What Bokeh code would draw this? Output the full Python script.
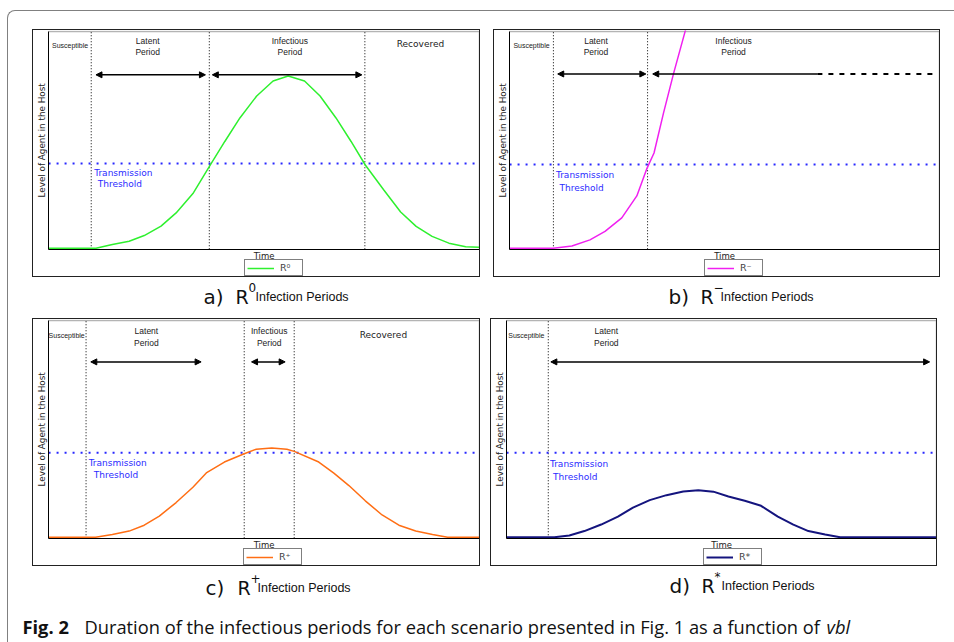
import math
from bokeh.plotting import figure
from bokeh.models import Range1d, Arrow, NormalHead, Legend, LegendItem, FixedTicker
from bokeh.layouts import row, column
from bokeh.embed import file_html
from bokeh.resources import INLINE
from bokeh.core.properties import value

# ---------------- data (time and level as % of the plot extent) ----------------
a_x = [0, 11.0, 14.8, 18.7, 22.2, 26.1, 29.6, 33.5, 37.4, 40.9, 44.4, 48.3, 52.1, 55.6,
       59.4, 63.0, 66.7, 70.2, 73.5, 77.8, 81.7, 85.3, 89.0, 92.9, 96.8, 100]
a_y = [0.5, 0.5, 2.2, 3.7, 6.3, 10.6, 16.7, 25.6, 38.3, 49.5, 60.3, 70.4, 77.3, 79.6,
       77.3, 70.4, 60.3, 49.5, 38.7, 27.2, 17.1, 10.5, 5.9, 2.8, 1.2, 0.9]

b_x = [0, 10.2, 14.5, 18.7, 22.2, 26.1, 29.6, 31.9, 33.6, 35.8, 38.2, 40.9, 43.6]
b_y = [0.5, 0.5, 1.5, 4.3, 8.2, 14.4, 24.5, 36.9, 44.2, 62.5, 81.1, 100.5, 121]

c_x = [0, 10.9, 14.8, 18.7, 22.2, 25.7, 29.6, 33.5, 36.6, 40.8, 45.4, 48.2, 51.8, 55.3,
       57.0, 62.7, 66.2, 69.7, 73.5, 77.4, 81.3, 85.2, 89.1, 92.6, 100]
c_y = [0.5, 0.5, 1.7, 3.3, 6.0, 10.2, 16.4, 23.4, 30.0, 35.0, 38.8, 40.9, 41.5, 40.9,
       39.9, 35.0, 29.9, 24.2, 17.2, 10.7, 6.0, 3.3, 1.7, 0.5, 0.5]

d_x = [0, 11.1, 14.6, 18.1, 22.0, 25.9, 29.4, 33.3, 37.2, 41.1, 44.6, 48.1, 51.6, 55.4,
       59.2, 63.1, 66.7, 70.2, 74.1, 77.6, 100]
d_y = [0.5, 0.5, 1.3, 3.3, 6.3, 9.9, 14.1, 17.5, 19.8, 21.5, 22.1, 21.4, 19.2, 17.2,
       14.9, 9.9, 6.3, 3.3, 1.7, 0.5, 0.5]

# period boundaries (vertical dotted lines) and transmission thresholds
a_bounds = [9.9, 37.3, 73.4]
b_bounds = [10.2, 32.1]
c_bounds = [8.7, 45.4, 57.0]
d_bounds = [9.7]
a_thresh, b_thresh, c_thresh, d_thresh = 39.4, 38.9, 39.3, 39.3

# duration arrows: (start, end, level)
a_arrows = [(11.0, 36.4, 80.1), (38.0, 72.7, 80.1)]
b_arrows = [(11.2, 31.7, 80.5)]
b_open_arrow = (33.3, 71.6, 80.5)
b_open_dash = (71.6, 98.4, 80.5)
c_arrows = [(9.8, 35.4, 81.0), (47.1, 54.9, 81.0)]
d_arrows = [(10.3, 98.4, 81.0)]

# region labels: (x, y, text)
a_small = [(5.0, 93.6, "Susceptible"), (23.0, 95.6, "Latent"), (23.0, 90.5, "Period"),
           (56.0, 95.6, "Infectious"), (56.0, 90.5, "Period")]
a_big = [(86.3, 94.3, "Recovered")]
b_small = [(5.1, 93.6, "Susceptible"), (20.1, 95.6, "Latent"), (20.1, 90.5, "Period"),
           (52.1, 95.6, "Infectious"), (52.1, 90.5, "Period")]
b_big = []
c_small = [(4.2, 92.9, "Susceptible"), (22.7, 95.0, "Latent"), (22.7, 89.6, "Period"),
           (51.2, 95.0, "Infectious"), (51.2, 89.6, "Period")]
c_big = [(77.7, 93.5, "Recovered")]
d_small = [(4.6, 92.9, "Susceptible"), (23.2, 95.0, "Latent"), (23.2, 89.6, "Period")]
d_big = []

a_thr_txt = [(10.6, 35.2, "Transmission"), (11.4, 29.8, "Threshold")]
b_thr_txt = [(10.8, 34.0, "Transmission"), (11.6, 28.2, "Threshold")]
c_thr_txt = [(9.3, 34.6, "Transmission"), (10.5, 29.1, "Threshold")]
d_thr_txt = [(10.1, 33.9, "Transmission"), (10.8, 28.3, "Threshold")]

x_title = "Time"
y_title = "Level of Agent in the Host"
legend_labels = ["R\u2070", "R\u207b", "R\u207a", "R*"]
caption_letters = ["a)", "b)", "c)", "d)"]
caption_sups = ["0", "\u2212", "+", "*"]
caption_words = "Infection Periods"
fig_label = "Fig. 2"
fig_text = "Duration of the infectious periods for each scenario presented in Fig. 1 as a function of"
fig_ital = "vbl"

SANS = "DejaVu Sans"
NARROW = "Liberation Sans"
CAPF = "Open Sans"

# pixel margins of the inner plot inside each boxed panel (left, right, top, bottom)
PX_L, PX_R, PX_T, PX_B = 15, 2, 1, 29
PANEL_H = 246


def panel(w, xs, ys, color, lw, leg, leg_x, bounds, thresh, arrows, small, big, thr_txt):
    fw = w - PX_L - PX_R
    fh = PANEL_H - PX_T - PX_B
    ux = 100.0 / fw   # data units per pixel
    uy = 100.0 / fh
    p = figure(width=w, height=PANEL_H,
               x_range=Range1d(-PX_L * ux, 100 + PX_R * ux),
               y_range=Range1d(-PX_B * uy, 100 + PX_T * uy),
               output_backend="svg", toolbar_location=None, min_border=0)
    p.styles = {"border": "1px solid #222222", "box-sizing": "content-box"}
    p.grid.visible = False
    p.background_fill_color = "white"
    p.border_fill_color = "white"
    p.outline_line_color = None
    for ax in p.axis:
        ax.ticker = FixedTicker(ticks=[])
        ax.major_tick_out = 0
        ax.major_tick_in = 0
        ax.minor_tick_out = 0
        ax.minor_tick_in = 0
        ax.major_label_standoff = 0
        ax.axis_label = None
        ax.axis_line_color = "black"
        ax.axis_line_width = 1
        ax.fixed_location = 0
        ax.bounds = (0, 100)
    # light frame on top and right of the plot area
    p.line([0, 100, 100], [100, 100, 0], line_color="#b4b4b4", line_width=1.5)
    # axis titles
    p.text(x=[50], y=[-7 * uy], text=[x_title], text_font=value(SANS),
           text_font_size="8.5px", text_color="#222222", text_align="center",
           text_baseline="middle")
    p.text(x=[-7 * ux], y=[50], text=[y_title], text_font=value(SANS), angle=math.pi / 2,
           text_font_size="8.8px", text_color="#222222", text_align="center",
           text_baseline="middle")
    p.segment(x0=bounds, y0=[0] * len(bounds), x1=bounds, y1=[100] * len(bounds),
              line_color="black", line_width=1, line_dash="1 2")
    p.segment(x0=[0], y0=[thresh], x1=[100], y1=[thresh], line_color="#2828ff",
              line_width=2, line_dash="2 6")
    for (x0, x1, yy) in arrows:
        p.add_layout(Arrow(x_start=x0, y_start=yy, x_end=x1, y_end=yy,
                           line_color="black", line_width=1.5,
                           start=NormalHead(size=6, fill_color="black", line_color="black"),
                           end=NormalHead(size=6, fill_color="black", line_color="black")))
    r = p.line(xs, ys, line_color=color, line_width=lw)
    if small:
        p.text(x=[t[0] for t in small], y=[t[1] for t in small], text=[t[2] for t in small],
               text_font=value(NARROW),
               text_font_size=[("7px" if t[2] == "Susceptible" else "8.5px") for t in small],
               text_color="#222222", text_align="center", text_baseline="middle")
    if big:
        p.text(x=[t[0] for t in big], y=[t[1] for t in big], text=[t[2] for t in big],
               text_font=value(SANS), text_font_size="9px", text_color="#222222",
               text_align="center", text_baseline="middle")
    p.text(x=[t[0] for t in thr_txt], y=[t[1] for t in thr_txt], text=[t[2] for t in thr_txt],
           text_font=value(SANS), text_font_size="9px", text_color="#2b2bff",
           text_align="left", text_baseline="middle")
    legend = Legend(items=[LegendItem(label=leg, renderers=[r])], location=(leg_x, 2),
                    orientation="horizontal", border_line_color="black", border_line_width=1,
                    padding=2, margin=0, glyph_width=27, glyph_height=10, label_height=10,
                    label_standoff=6, spacing=0, label_text_font=SANS,
                    label_text_font_size="9.5px", background_fill_alpha=1)
    p.add_layout(legend)
    return p


pa = panel(446, a_x, a_y, "#2ef02e", 1.5, legend_labels[0], 211, a_bounds, a_thresh,
           a_arrows, a_small, a_big, a_thr_txt)
pb = panel(445, b_x, b_y, "#f020f0", 1.5, legend_labels[1], 210, b_bounds, b_thresh,
           b_arrows, b_small, b_big, b_thr_txt)
pb.add_layout(Arrow(x_start=b_open_arrow[0], y_start=b_open_arrow[2], x_end=b_open_arrow[1],
                    y_end=b_open_arrow[2], line_color="black", line_width=1.5,
                    start=NormalHead(size=6, fill_color="black", line_color="black"), end=None))
pb.line([b_open_dash[0], b_open_dash[1]], [b_open_dash[2], b_open_dash[2]],
        line_color="black", line_width=2, line_dash="5 6")
pc = panel(446, c_x, c_y, "#ff6e14", 1.5, legend_labels[2], 210, c_bounds, c_thresh,
           c_arrows, c_small, c_big, c_thr_txt)
pd = panel(445, d_x, d_y, "#14147e", 2, legend_labels[3], 212, d_bounds, d_thresh,
           d_arrows, d_small, d_big, d_thr_txt)


def caption(w, h, items):
    c = figure(width=w, height=h, x_range=Range1d(0, w), y_range=Range1d(0, h),
               output_backend="svg", toolbar_location=None,
               x_axis_location=None, y_axis_location=None, min_border=0)
    c.outline_line_color = None
    c.grid.visible = False
    for (x, y, t, font, size, style) in items:
        c.text(x=[x], y=[y], text=[t], text_font=value(font), text_font_size=size,
               text_font_style=style, text_color="#111111",
               text_align="left", text_baseline="alphabetic")
    return c


def panel_caption(w, h, x0, base, letter, sup):
    return caption(w, h, [(x0, base, letter, SANS, "20px", "normal"),
                          (x0 + 32, base, "R", SANS, "19px", "normal"),
                          (x0 + 45, base + 9, sup, SANS, "12px", "normal"),
                          (x0 + 52, base, caption_words, NARROW, "12.5px", "normal")])


ca = panel_caption(448, 41, 171, 22, caption_letters[0], caption_sups[0])
cb = panel_caption(447, 41, 175, 22, caption_letters[1], caption_sups[1])
cc = panel_caption(448, 40, 173, 19, caption_letters[2], caption_sups[2])
cd = panel_caption(447, 40, 179, 21, caption_letters[3], caption_sups[3])
cf = caption(946, 36, [(14, 16, fig_label, CAPF, "18.3px", "bold"),
                       (76, 16, fig_text, CAPF, "18.3px", "normal"),
                       (818, 16, fig_ital, CAPF, "18.3px", "italic")])

row1 = row(pa, pb, spacing=13)
row1.margin = (18, 0, 0, 24)
caprow1 = row(ca, cb, spacing=13)
caprow1.margin = (0, 0, 0, 24)
row2 = row(pc, pd, spacing=10)
row2.margin = (0, 0, 0, 24)
caprow2 = row(cc, cd, spacing=10)
caprow2.margin = (0, 0, 0, 24)

root = column(row1, caprow1, row2, caprow2, cf, spacing=0)
root.styles = {"border-top": "1px solid #808080", "border-left": "1px solid #808080",
               "border-top-left-radius": "8px", "margin-left": "7px", "margin-top": "10px"}

open("out.html", "w").write(file_html(root, INLINE))
